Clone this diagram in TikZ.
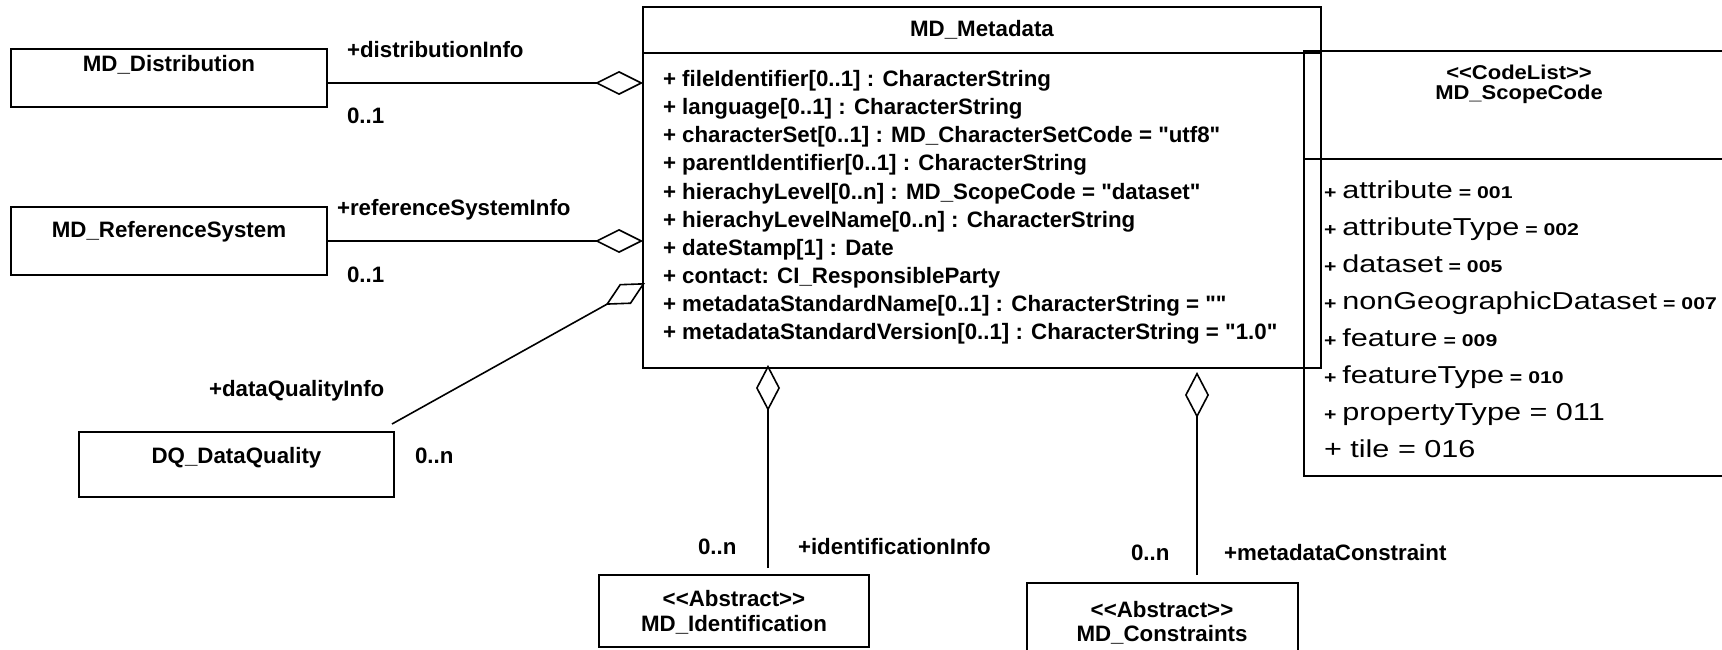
\documentclass[tikz,border=0pt]{standalone}
\usepackage{fontspec}
\newfontfamily\uml{Liberation Sans}
\usetikzlibrary{arrows.meta}
\newcommand{\bsz}{\uml\fontsize{22.3}{26}\selectfont\bfseries}
\newcommand{\rgS}{\uml\fontsize{24.5}{28}\selectfont\mdseries}
\newcommand{\bdS}{\uml\fontsize{17}{20}\selectfont\bfseries}
\newcommand{\hdS}{\uml\fontsize{20}{24}\selectfont\bfseries}
\newcommand{\sx}[1]{\scalebox{1.25}[1]{#1}}
\begin{document}
\begin{tikzpicture}[x=1pt,y=-1pt,
  every node/.style={inner sep=0pt,outer sep=0pt},
  umlbox/.style={draw,line width=1.6pt},
  lbl/.style={font=\bsz,anchor=base west},
  ttl/.style={font=\bsz,anchor=base},
  sattr/.style={anchor=base west},
  conn/.style={line width=1.6pt},
  agg/.style={conn,-{Diamond[open,length=48pt,width=24pt]}},
  aggd/.style={conn,-{Diamond[open,length=45pt,width=23pt]}},
  aggv/.style={conn,-{Diamond[open,length=46pt,width=24pt]}},
]
\useasboundingbox (0,0) rectangle (1722,650);
\clip (0,0) rectangle (1722,650);

% boxes
\node[umlbox,minimum width=316pt,minimum height=58pt] (dist) at (169,78) {};
\node[ttl] (distT) at (169,72) {MD\_Distribution};
\node[umlbox,minimum width=316pt,minimum height=68pt] (refs) at (169,241) {};
\node[ttl] (refsT) at (169,237) {MD\_ReferenceSystem};
\node[umlbox,minimum width=315pt,minimum height=65pt] (dq) at (236.5,464.5) {};
\node[ttl] (dqT) at (236.5,463) {DQ\_DataQuality};

\node[umlbox,minimum width=678pt,minimum height=361pt] (meta) at (982,187.5) {};
\coordinate (d1) at (0,53);
\draw[conn] (meta.west |- d1) -- (meta.east |- d1);
\node[ttl] (metaT) at (982,37) {MD\_Metadata};

\node[umlbox,minimum width=430pt,minimum height=425pt] (scope) at (1519,263.5) {};
\coordinate (d2) at (0,159);
\draw[conn] (scope.west |- d2) -- (scope.east |- d2);
\node[anchor=base] (scH1) at (1519,80) {\scalebox{1.1}[1]{\hdS <{}<CodeList>{}>}};
\node[anchor=base] (scH2) at (1519,100) {\scalebox{1.1}[1]{\hdS MD\_ScopeCode}};

\node[umlbox,minimum width=270pt,minimum height=72pt] (ident) at (734,611) {};
\node[ttl] (idT1) at (734,606) {<{}<Abstract>{}>};
\node[ttl] (idT2) at (734,631) {MD\_Identification};
\node[umlbox,minimum width=271pt,minimum height=80pt] (cons) at (1162.5,623) {};
\node[ttl] (csT1) at (1162,617) {<{}<Abstract>{}>};
\node[ttl] (csT2) at (1162,641) {MD\_Constraints};

% metadata attributes
\node[lbl] (a1) at (663,86.7) {+ fileIdentifier[0..1] : CharacterString};
\node[lbl] (a2) at (663,114.8) {+ language[0..1] : CharacterString};
\node[lbl] (a3) at (663,142.9) {+ characterSet[0..1] : MD\_CharacterSetCode = "utf8"};
\node[lbl] (a4) at (663,171.0) {+ parentIdentifier[0..1] : CharacterString};
\node[lbl] (a5) at (663,199.1) {+ hierachyLevel[0..n] : MD\_ScopeCode = "dataset"};
\node[lbl] (a6) at (663,227.2) {+ hierachyLevelName[0..n] : CharacterString};
\node[lbl] (a7) at (663,255.3) {+ dateStamp[1] : Date};
\node[lbl] (a8) at (663,283.4) {+ contact: CI\_ResponsibleParty};
\node[lbl] (a9) at (663,311.5) {+ metadataStandardName[0..1] : CharacterString = ""};
\node[lbl] (a10) at (663,339.6) {+ metadataStandardVersion[0..1] : CharacterString = "1.0"};

% scope code attributes
\node[sattr] (s1) at (1324,198) {\sx{\bdS + \rgS attribute\bdS{} = 001}};
\node[sattr] (s2) at (1324,235) {\sx{\bdS + \rgS attributeType\bdS{} = 002}};
\node[sattr] (s3) at (1324,272) {\sx{\bdS + \rgS dataset\bdS{} = 005}};
\node[sattr] (s4) at (1324,309) {\sx{\bdS + \rgS nonGeographicDataset\bdS{} = 007}};
\node[sattr] (s5) at (1324,346) {\sx{\bdS + \rgS feature\bdS{} = 009}};
\node[sattr] (s6) at (1324,383) {\sx{\bdS + \rgS featureType\bdS{} = 010}};
\node[sattr] (s7) at (1324,420) {\sx{\bdS + \rgS propertyType = 011}};
\node[sattr] (s8) at (1324,457) {\sx{\rgS + tile = 016}};

% connectors
\coordinate (t1) at (643,83);
\draw[agg] (dist.east |- t1) -- (t1);
\coordinate (t2) at (643,241);
\draw[agg] (refs.east) -- (t2);
\coordinate (t3) at (645,283);
\draw[aggd] ([shift={(-2,-8)}]dq.north east) -- (t3);
\coordinate (t4) at (768,365);
\draw[aggv,shorten <=7pt] (ident.north -| t4) -- (t4);
\coordinate (t5) at (1197,372);
\draw[aggv,shorten <=8pt] (cons.north -| t5) -- (t5);

% role labels and multiplicities
\node[lbl] (l1) at (347,58) {+distributionInfo};
\node[lbl] (l2) at (347,124) {0..1};
\node[lbl] (l3) at (337,215) {+referenceSystemInfo};
\node[lbl] (l4) at (347,282) {0..1};
\node[lbl] (l5) at (209,396) {+dataQualityInfo};
\node[lbl] (l6) at (415,463) {0..n};
\node[lbl] (l7) at (698,554) {0..n};
\node[lbl] (l8) at (798,554) {+identificationInfo};
\node[lbl] (l9) at (1131,560) {0..n};
\node[lbl] (l10) at (1224,560) {+metadataConstraint};
\end{tikzpicture}
\end{document}
